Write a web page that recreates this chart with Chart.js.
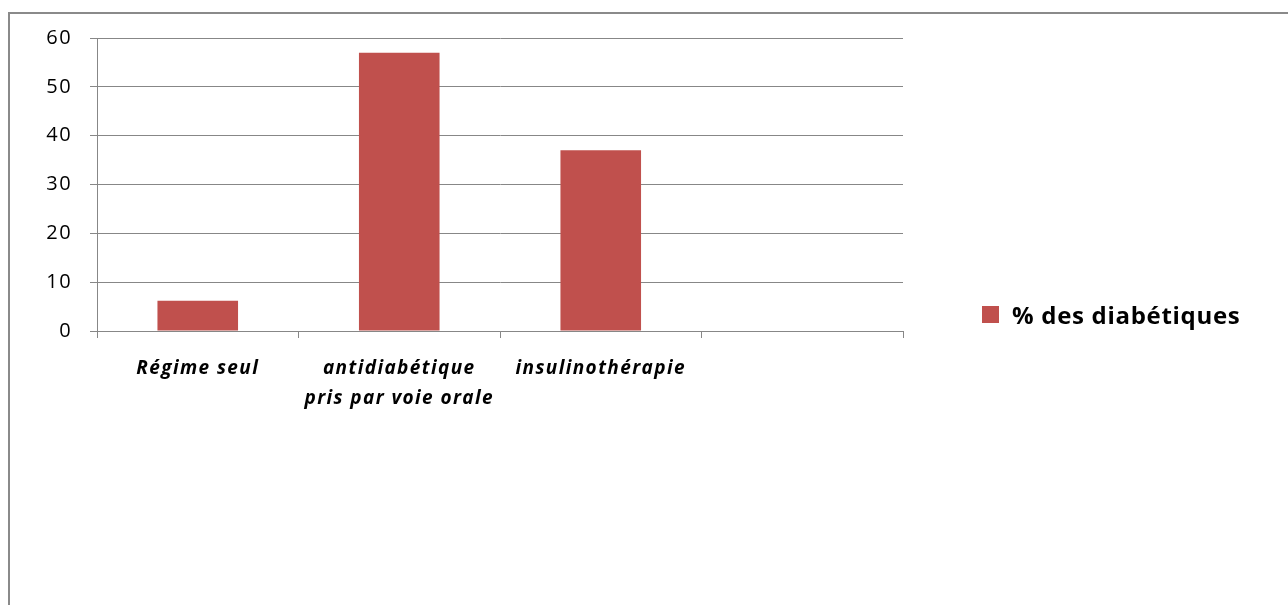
<!DOCTYPE html>
<html>
<head>
<meta charset="utf-8">
<script src="https://cdn.jsdelivr.net/npm/chart.js@4"></script>
<style>
  html, body { margin: 0; padding: 0; background: #fff; overflow: hidden; }
  #wrap { position: relative; width: 1288px; height: 605px; }
  #frame { position: absolute; left: 8px; top: 12px; width: 1300px; height: 620px; border: 2px solid #8a8a8a; box-sizing: border-box; }
  #c { position: absolute; left: 0; top: 0; }
  #legend { position: absolute; left: 982px; top: 298px; height: 32px; display: flex; align-items: center;
            font-family: "Open Sans", "Liberation Sans", sans-serif; font-weight: bold; font-size: 24px; letter-spacing: 0.7px; color: #000; }
  #legend .sw { width: 17px; height: 17px; background: #C0504D; margin-right: 13px; }
</style>
</head>
<body>
<div id="wrap">
  <div id="frame"></div>
  <canvas id="c" width="1288" height="605"></canvas>
  <div id="legend"><span class="sw"></span><span id="legtext"></span></div>
</div>
<script>
const categories = ['Régime seul', ['antidiabétique', 'pris par voie orale'], 'insulinothérapie', ''];
const seriesName = '% des diabétiques';
const seriesValues = [6.2, 57, 37, null];
const yTicks = [0, 10, 20, 30, 40, 50, 60];

document.getElementById('legtext').textContent = seriesName;

const spacingPlugin = {
  id: 'spacing',
  beforeDraw: c => { c.ctx.letterSpacing = '1.4px'; },
  afterDraw: c => { c.ctx.letterSpacing = '0px'; }
};

const gridColor = '#878787';
new Chart(document.getElementById('c'), {
  type: 'bar',
  data: {
    labels: categories,
    datasets: [{
      label: seriesName,
      data: seriesValues,
      backgroundColor: '#C0504D',
      borderWidth: 0,
      barPercentage: 0.4,
      categoryPercentage: 1.0
    }]
  },
  plugins: [spacingPlugin],
  options: {
    responsive: false,
    animation: false,
    devicePixelRatio: 1,
    layout: { padding: { left: 0, top: 38, right: 385, bottom: 0 } },
    plugins: { legend: { display: false }, tooltip: { enabled: false } },
    scales: {
      x: {
        offset: true,
        grid: { offset: true, drawOnChartArea: false, drawTicks: true, tickLength: 7, color: gridColor, lineWidth: 1 },
        border: { color: gridColor, width: 1 },
        ticks: {
          maxRotation: 0, autoSkip: false, padding: 16, color: '#000',
          font: { family: '"Open Sans", "Liberation Sans", sans-serif', size: 19, style: 'italic', weight: 'bold', lineHeight: 1.58 }
        },
        afterFit: s => { s.height = 605 - 331; }
      },
      y: {
        min: 0, max: 60,
        afterBuildTicks: s => { s.ticks = yTicks.map(v => ({ value: v })); },
        grid: { color: gridColor, lineWidth: 1, tickLength: 7, drawTicks: true },
        border: { color: gridColor, width: 1 },
        ticks: {
          padding: 18, color: '#000',
          font: { family: '"Open Sans", "Liberation Sans", sans-serif', size: 20 }
        },
        afterFit: s => { s.width = 97; }
      }
    }
  }
});
</script>
</body>
</html>
